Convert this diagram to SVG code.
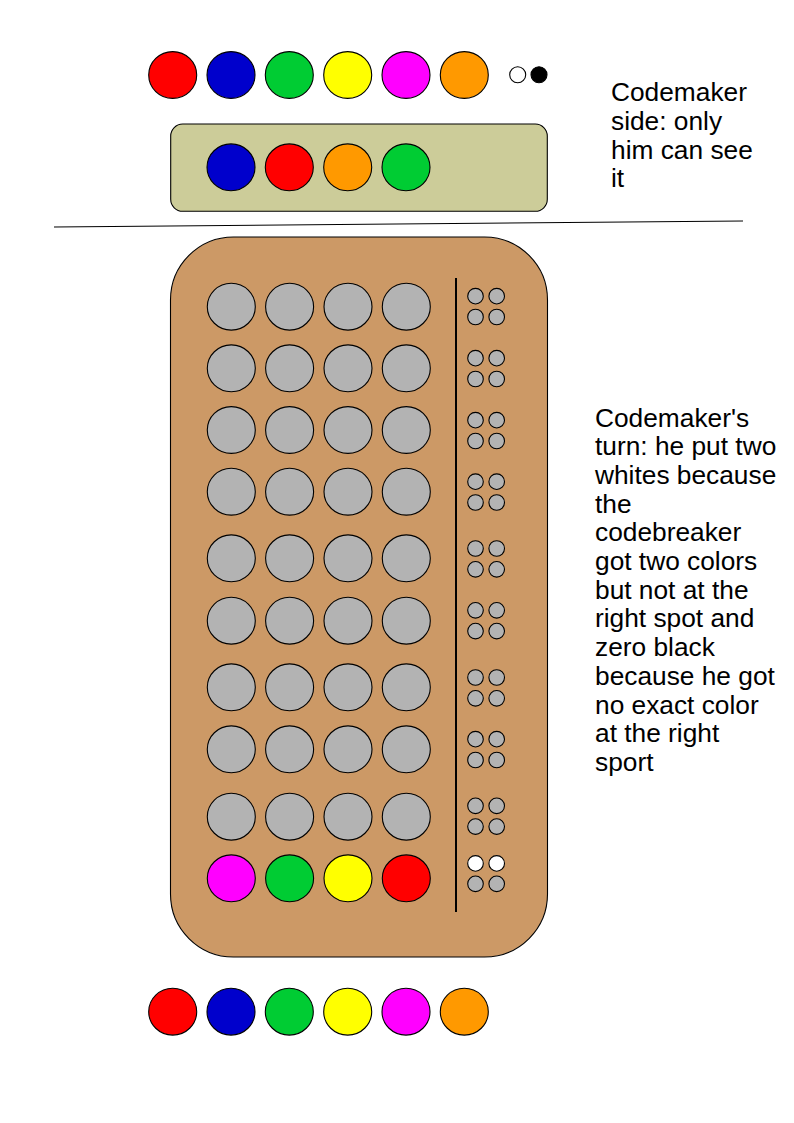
<svg xmlns="http://www.w3.org/2000/svg" width="794" height="1123" viewBox="0 0 794 1123">
<style>
.p{stroke:#000;stroke-width:1.1}
.s{fill:#b3b3b3;stroke:#000;stroke-width:1.1}
.r{fill:#ff0000}.b{fill:#0000cc}.gr{fill:#00cc33}.y{fill:#ffff00}.m{fill:#ff00ff}.o{fill:#ff9900}
text{font-family:"Liberation Sans",Arial,sans-serif;font-size:26.3px;fill:#000}
</style>
<rect width="794" height="1123" fill="#fff"/>
<g id="palette-top">
<ellipse class="p r" cx="172.7" cy="75" rx="24" ry="23.4"/>
<ellipse class="p b" cx="231" cy="75" rx="24" ry="23.4"/>
<ellipse class="p gr" cx="289.3" cy="75" rx="24" ry="23.4"/>
<ellipse class="p y" cx="347.7" cy="75" rx="24" ry="23.4"/>
<ellipse class="p m" cx="406" cy="75" rx="24" ry="23.4"/>
<ellipse class="p o" cx="464.3" cy="75" rx="24" ry="23.4"/>
<circle class="p" cx="517.7" cy="74.7" r="8" fill="#fff"/>
<circle class="p" cx="539" cy="74.7" r="8" fill="#000"/>
</g>
<g id="secret-code">
<rect x="170.7" y="124" width="376.6" height="87.3" rx="12" ry="12" fill="#cccc99" stroke="#000" stroke-width="1.1"/>
<ellipse class="p b" cx="231" cy="167.3" rx="24" ry="23.4"/>
<ellipse class="p r" cx="289.3" cy="167.3" rx="24" ry="23.4"/>
<ellipse class="p o" cx="347.7" cy="167.3" rx="24" ry="23.4"/>
<ellipse class="p gr" cx="406" cy="167.3" rx="24" ry="23.4"/>
</g>
<g id="label-codemaker-side">
<text x="611" y="101">Codemaker</text>
<text x="611" y="129.8">side: only</text>
<text x="611" y="158.6">him can see</text>
<text x="611" y="187.4">it</text>
</g>
<g id="separator">
<line x1="54" y1="227" x2="743" y2="221" stroke="#000" stroke-width="1.1"/>
</g>
<g id="board">
<rect x="170.5" y="237" width="377" height="720" rx="63" ry="63" fill="#cc9966" stroke="#000" stroke-width="1.1"/>
<line x1="456" y1="278" x2="456" y2="912" stroke="#000" stroke-width="2"/>
</g>
<g id="guess-rows">
<g id="row1" transform="translate(0,306.7)">
<ellipse class="s" cx="231.3" cy="0" rx="24" ry="23.4"/><ellipse class="s" cx="289.6" cy="0" rx="24" ry="23.4"/><ellipse class="s" cx="348" cy="0" rx="24" ry="23.4"/><ellipse class="s" cx="406.3" cy="0" rx="24" ry="23.4"/>
</g>
<g id="row2" transform="translate(0,368.3)">
<ellipse class="s" cx="231.3" cy="0" rx="24" ry="23.4"/><ellipse class="s" cx="289.6" cy="0" rx="24" ry="23.4"/><ellipse class="s" cx="348" cy="0" rx="24" ry="23.4"/><ellipse class="s" cx="406.3" cy="0" rx="24" ry="23.4"/>
</g>
<g id="row3" transform="translate(0,430)">
<ellipse class="s" cx="231.3" cy="0" rx="24" ry="23.4"/><ellipse class="s" cx="289.6" cy="0" rx="24" ry="23.4"/><ellipse class="s" cx="348" cy="0" rx="24" ry="23.4"/><ellipse class="s" cx="406.3" cy="0" rx="24" ry="23.4"/>
</g>
<g id="row4" transform="translate(0,491.7)">
<ellipse class="s" cx="231.3" cy="0" rx="24" ry="23.4"/><ellipse class="s" cx="289.6" cy="0" rx="24" ry="23.4"/><ellipse class="s" cx="348" cy="0" rx="24" ry="23.4"/><ellipse class="s" cx="406.3" cy="0" rx="24" ry="23.4"/>
</g>
<g id="row5" transform="translate(0,558.3)">
<ellipse class="s" cx="231.3" cy="0" rx="24" ry="23.4"/><ellipse class="s" cx="289.6" cy="0" rx="24" ry="23.4"/><ellipse class="s" cx="348" cy="0" rx="24" ry="23.4"/><ellipse class="s" cx="406.3" cy="0" rx="24" ry="23.4"/>
</g>
<g id="row6" transform="translate(0,620.7)">
<ellipse class="s" cx="231.3" cy="0" rx="24" ry="23.4"/><ellipse class="s" cx="289.6" cy="0" rx="24" ry="23.4"/><ellipse class="s" cx="348" cy="0" rx="24" ry="23.4"/><ellipse class="s" cx="406.3" cy="0" rx="24" ry="23.4"/>
</g>
<g id="row7" transform="translate(0,687.3)">
<ellipse class="s" cx="231.3" cy="0" rx="24" ry="23.4"/><ellipse class="s" cx="289.6" cy="0" rx="24" ry="23.4"/><ellipse class="s" cx="348" cy="0" rx="24" ry="23.4"/><ellipse class="s" cx="406.3" cy="0" rx="24" ry="23.4"/>
</g>
<g id="row8" transform="translate(0,749.3)">
<ellipse class="s" cx="231.3" cy="0" rx="24" ry="23.4"/><ellipse class="s" cx="289.6" cy="0" rx="24" ry="23.4"/><ellipse class="s" cx="348" cy="0" rx="24" ry="23.4"/><ellipse class="s" cx="406.3" cy="0" rx="24" ry="23.4"/>
</g>
<g id="row9" transform="translate(0,816.7)">
<ellipse class="s" cx="231.3" cy="0" rx="24" ry="23.4"/><ellipse class="s" cx="289.6" cy="0" rx="24" ry="23.4"/><ellipse class="s" cx="348" cy="0" rx="24" ry="23.4"/><ellipse class="s" cx="406.3" cy="0" rx="24" ry="23.4"/>
</g>
<g id="row10" transform="translate(0,878.3)">
<ellipse class="p m" cx="231.3" cy="0" rx="24" ry="23.4"/><ellipse class="p gr" cx="289.6" cy="0" rx="24" ry="23.4"/><ellipse class="p y" cx="348" cy="0" rx="24" ry="23.4"/><ellipse class="p r" cx="406.3" cy="0" rx="24" ry="23.4"/>
</g>
</g>
<g id="feedback-pegs">
<g transform="translate(0,296.2)"><circle class="s" cx="475.5" cy="0" r="7.8"/><circle class="s" cx="496.7" cy="0" r="7.8"/><circle class="s" cx="475.5" cy="20.8" r="7.8"/><circle class="s" cx="496.7" cy="20.8" r="7.8"/></g>
<g transform="translate(0,358.2)"><circle class="s" cx="475.5" cy="0" r="7.8"/><circle class="s" cx="496.7" cy="0" r="7.8"/><circle class="s" cx="475.5" cy="20.8" r="7.8"/><circle class="s" cx="496.7" cy="20.8" r="7.8"/></g>
<g transform="translate(0,420.2)"><circle class="s" cx="475.5" cy="0" r="7.8"/><circle class="s" cx="496.7" cy="0" r="7.8"/><circle class="s" cx="475.5" cy="20.8" r="7.8"/><circle class="s" cx="496.7" cy="20.8" r="7.8"/></g>
<g transform="translate(0,481.7)"><circle class="s" cx="475.5" cy="0" r="7.8"/><circle class="s" cx="496.7" cy="0" r="7.8"/><circle class="s" cx="475.5" cy="20.8" r="7.8"/><circle class="s" cx="496.7" cy="20.8" r="7.8"/></g>
<g transform="translate(0,548.5)"><circle class="s" cx="475.5" cy="0" r="7.8"/><circle class="s" cx="496.7" cy="0" r="7.8"/><circle class="s" cx="475.5" cy="20.8" r="7.8"/><circle class="s" cx="496.7" cy="20.8" r="7.8"/></g>
<g transform="translate(0,610.3)"><circle class="s" cx="475.5" cy="0" r="7.8"/><circle class="s" cx="496.7" cy="0" r="7.8"/><circle class="s" cx="475.5" cy="20.8" r="7.8"/><circle class="s" cx="496.7" cy="20.8" r="7.8"/></g>
<g transform="translate(0,677.5)"><circle class="s" cx="475.5" cy="0" r="7.8"/><circle class="s" cx="496.7" cy="0" r="7.8"/><circle class="s" cx="475.5" cy="20.8" r="7.8"/><circle class="s" cx="496.7" cy="20.8" r="7.8"/></g>
<g transform="translate(0,739.2)"><circle class="s" cx="475.5" cy="0" r="7.8"/><circle class="s" cx="496.7" cy="0" r="7.8"/><circle class="s" cx="475.5" cy="20.8" r="7.8"/><circle class="s" cx="496.7" cy="20.8" r="7.8"/></g>
<g transform="translate(0,805.8)"><circle class="s" cx="475.5" cy="0" r="7.8"/><circle class="s" cx="496.7" cy="0" r="7.8"/><circle class="s" cx="475.5" cy="20.8" r="7.8"/><circle class="s" cx="496.7" cy="20.8" r="7.8"/></g>
<g transform="translate(0,863.4)"><circle class="p" cx="475.5" cy="0" r="7.8" fill="#fff"/><circle class="p" cx="496.7" cy="0" r="7.8" fill="#fff"/><circle class="s" cx="475.5" cy="20.4" r="7.8"/><circle class="s" cx="496.7" cy="20.4" r="7.8"/></g>
</g>
<g id="label-codemaker-turn">
<text x="595" y="426.5">Codemaker's</text>
<text x="595" y="455.2">turn: he put two</text>
<text x="595" y="483.9">whites because</text>
<text x="595" y="512.6">the</text>
<text x="595" y="541.3">codebreaker</text>
<text x="595" y="570">got two colors</text>
<text x="595" y="598.7">but not at the</text>
<text x="595" y="627.4">right spot and</text>
<text x="595" y="656.1">zero black</text>
<text x="595" y="684.8">because he got</text>
<text x="595" y="713.5">no exact color</text>
<text x="595" y="742.2">at the right</text>
<text x="595" y="770.9">sport</text>
</g>
<g id="palette-bottom">
<ellipse class="p r" cx="172.7" cy="1011.7" rx="24" ry="23.4"/>
<ellipse class="p b" cx="231" cy="1011.7" rx="24" ry="23.4"/>
<ellipse class="p gr" cx="289.3" cy="1011.7" rx="24" ry="23.4"/>
<ellipse class="p y" cx="347.7" cy="1011.7" rx="24" ry="23.4"/>
<ellipse class="p m" cx="406" cy="1011.7" rx="24" ry="23.4"/>
<ellipse class="p o" cx="464.3" cy="1011.7" rx="24" ry="23.4"/>
</g>
</svg>
